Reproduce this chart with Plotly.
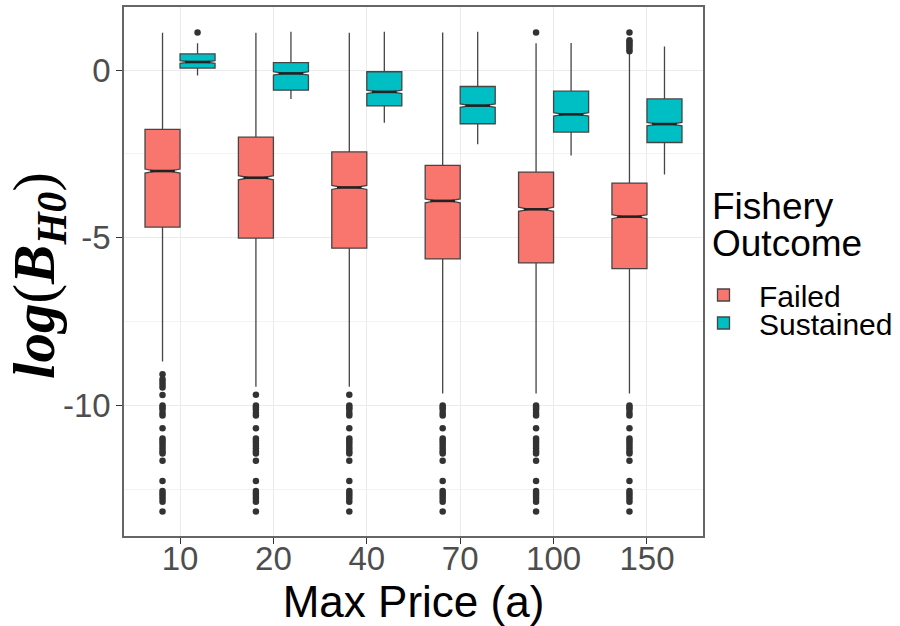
import plotly.graph_objects as go

# Max price levels (x categories)
categories = ["10", "20", "40", "70", "100", "150"]

# Failed fisheries: box statistics of log(B_H0)
failed_q1 = [-4.68, -5.01, -5.31, -5.63, -5.75, -5.92]
failed_median = [-3.01, -3.21, -3.50, -3.90, -4.15, -4.37]
failed_q3 = [-1.77, -2.00, -2.44, -2.84, -3.04, -3.37]
failed_upper = [1.11, 1.11, 1.11, 1.12, 0.80, 0.52]
failed_lower = [-8.69, -9.44, -9.44, -9.64, -9.64, -9.64]
failed_notch = [0.06, 0.06, 0.06, 0.06, 0.06, 0.06]

# Sustained fisheries: box statistics of log(B_H0)
sustained_q1 = [0.06, -0.60, -1.07, -1.60, -1.85, -2.16]
sustained_median = [0.24, -0.10, -0.65, -1.06, -1.32, -1.61]
sustained_q3 = [0.48, 0.22, -0.05, -0.49, -0.63, -0.86]
sustained_upper = [0.80, 1.14, 1.14, 1.14, 0.81, 0.70]
sustained_lower = [-0.16, -0.86, -1.57, -2.21, -2.55, -3.11]
sustained_notch = [0.04, 0.05, 0.05, 0.05, 0.05, 0.05]

# Low outliers shared by every Failed group
low_tail = [-10.68, -10.98, -11.05, -11.12, -11.20, -11.28, -11.36, -11.43,
            -11.65, -12.25, -12.55, -12.62, -12.70, -12.78, -12.87, -13.16]
mid_tail = [-10.00, -10.06, -10.12, -10.22, -10.30]

failed_outliers = [
    [-9.07, -9.22, -9.30, -9.38, -9.46, -9.69] + mid_tail + low_tail,
    [-9.68] + mid_tail + low_tail,
    [-9.68] + mid_tail + low_tail,
    mid_tail + low_tail,
    mid_tail + low_tail + [1.12],
    mid_tail + low_tail + [0.56, 0.63, 0.70, 0.77, 0.84, 0.89, 1.12],
]
sustained_outliers = [[1.12], [], [], [], [], []]

FAILED_COLOR = "#F8766D"
SUSTAINED_COLOR = "#00BFC4"
DODGE = 0.1875       # offset of each group from the category centre
BOX_W = 0.375
NOTCH_W = 0.3
FONT = "Liberation Sans"

fig = go.Figure()


def add_group(name, color, offset, q1, med, q3, lo, hi, notch, outliers,
              legend):
    xs = [i + offset for i in range(len(categories))]
    fig.add_trace(go.Box(
        name=name, x=xs, q1=q1, median=med, q3=q3,
        lowerfence=lo, upperfence=hi, notchspan=notch,
        notched=True, notchwidth=NOTCH_W, width=BOX_W,
        whiskerwidth=0, boxpoints=False,
        fillcolor=color, line=dict(color="#454545", width=1.3),
        hoverinfo="skip", legend=legend,
    ))
    # heavier median bars across the notch waist
    mx, my = [], []
    half = BOX_W / 2 * (1 - NOTCH_W)
    for x, m in zip(xs, med):
        mx += [x - half, x + half, None]
        my += [m, m, None]
    fig.add_trace(go.Scatter(
        x=mx, y=my, mode="lines", line=dict(color="#222222", width=2.6),
        showlegend=False, hoverinfo="skip",
    ))
    ox, oy = [], []
    for x, pts in zip(xs, outliers):
        ox += [x] * len(pts)
        oy += pts
    fig.add_trace(go.Scatter(
        x=ox, y=oy, mode="markers",
        marker=dict(color="#333333", size=6.5),
        showlegend=False, hoverinfo="skip",
    ))


add_group("Failed", FAILED_COLOR, -DODGE, failed_q1, failed_median, failed_q3,
          failed_lower, failed_upper, failed_notch, failed_outliers, "legend")
add_group("Sustained", SUSTAINED_COLOR, DODGE, sustained_q1, sustained_median,
          sustained_q3, sustained_lower, sustained_upper, sustained_notch,
          sustained_outliers, "legend2")

axis_common = dict(
    showline=True, mirror=True, linecolor="#666666", linewidth=1.6,
    ticks="outside", ticklen=6, tickcolor="#333333", tickwidth=1,
    gridcolor="#EBEBEB", gridwidth=1, zeroline=False,
    tickfont=dict(family=FONT, size=33, color="#4D4D4D"),
)

legend_common = dict(
    xref="container", yref="container",
    xanchor="left", yanchor="middle", x=688 / 900,
    font=dict(family=FONT, size=30, color="black"),
    bgcolor="rgba(0,0,0,0)", itemwidth=61,
)

title_font = dict(family=FONT, size=37, color="black")

fig.update_layout(
    width=900, height=626,
    margin=dict(l=124, r=197, t=7, b=90, autoexpand=False),
    plot_bgcolor="white", paper_bgcolor="white",
    boxmode="overlay",
    font=dict(family=FONT, color="black"),
    xaxis=dict(
        **axis_common,
        range=[-0.6, len(categories) - 0.4],
        tickmode="array", tickvals=list(range(len(categories))),
        ticktext=categories, ticklabelstandoff=-13,
        title=dict(text="Max Price (a)", font=dict(family=FONT, size=44),
                   standoff=6),
    ),
    yaxis=dict(
        **axis_common,
        range=[-13.89, 1.88],
        tickmode="array", tickvals=[-10, -5, 0], ticktext=["-10", "-5", "0"],
        ticklabelstandoff=-1,
        minor=dict(tickvals=[-12.5, -7.5, -2.5], showgrid=True,
                   gridcolor="#F3F3F3", ticks=""),
    ),
    legend=dict(**legend_common, y=1 - 295 / 626),
    legend2=dict(**legend_common, y=1 - 323 / 626),
    annotations=[
        # y-axis title
        dict(text=("<b><i>log</i></b>(<b><i>B</i></b>"
                   "<sub><b><i>H0</i></b></sub>)"),
             xref="paper", yref="paper", x=(38 - 124) / 579,
             y=(536 - 276) / 529, textangle=-90,
             xanchor="center", yanchor="middle", showarrow=False,
             font=dict(family="Liberation Serif", size=59, color="black")),
        # legend heading
        dict(text="Fishery", xref="paper", yref="paper",
             x=(710 - 124) / 579, y=(536 - 207) / 529,
             xanchor="left", yanchor="middle", showarrow=False,
             font=title_font),
        dict(text="Outcome", xref="paper", yref="paper",
             x=(710 - 124) / 579, y=(536 - 244) / 529,
             xanchor="left", yanchor="middle", showarrow=False,
             font=title_font),
    ],
)

fig.write_html("out.html")
